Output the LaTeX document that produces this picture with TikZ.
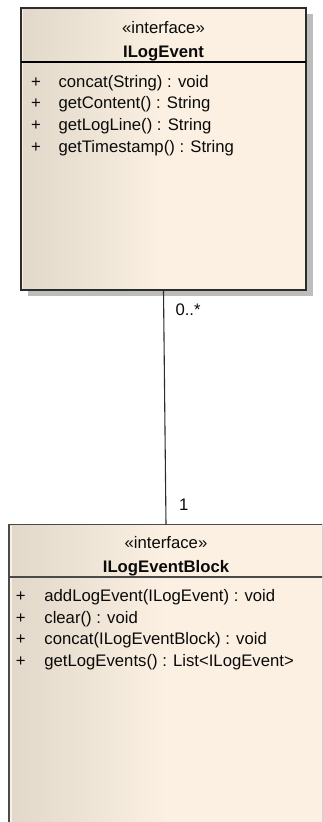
\documentclass[tikz,border=0pt]{standalone}
\usepackage{fontspec}
\setmainfont{Liberation Sans}
\usetikzlibrary{shadows}

\definecolor{fillL}{HTML}{E1D8C9}
\definecolor{fillR}{HTML}{FBF0E2}
\definecolor{edgeA}{HTML}{2C2C2C}
\definecolor{edgeB}{HTML}{4A4A4A}
\definecolor{shadowgray}{HTML}{BDBDBD}
\definecolor{txt}{HTML}{0A0A0A}

% darker beige on the left, fading to the pale fill by the middle
\pgfdeclarehorizontalshading{classfill}{100bp}{color(0bp)=(fillL); color(25bp)=(fillL); color(50bp)=(fillR); color(100bp)=(fillR)}

\tikzset{
  classbox/.style={rectangle, anchor=north west, outer sep=0pt, inner sep=0pt,
    shading=classfill, draw=edgeA, line width=1.2pt},
  boxshadow/.style={drop shadow={shadow xshift=7pt, shadow yshift=-6pt, fill=shadowgray, opacity=1}},
  lbl/.style={inner sep=0pt, outer sep=0pt, anchor=base, text=txt,
    font=\fontsize{16.7}{20}\selectfont},
  member/.style={lbl, anchor=base west},
  divline/.style={draw=black, line width=1.2pt},
  assoc/.style={draw=edgeA, line width=1.1pt},
}

\begin{document}
\begin{tikzpicture}[x=1pt, y=-1pt]
  \useasboundingbox (0,0) rectangle (322,822);
  \clip (0,0) rectangle (322,822);

  % ---- ILogEvent ----
  \node[classbox, boxshadow, minimum width=285pt, minimum height=282pt] (evt) at (21,8) {};
  \draw[fillR, line width=1.4pt] ([xshift=1.6pt,yshift=-1pt]evt.north west) -- ([xshift=1.6pt,yshift=1pt]evt.south west);
  \draw[edgeA, line width=1.2pt] (evt.north west) rectangle (evt.south east);
  \draw[divline] (evt.west |- 0,62) -- (evt.east |- 0,62);
  \node[lbl] (evtst) at (163.5,33) {«interface»};
  \node[lbl, font=\fontsize{16.7}{20}\selectfont\bfseries] (evtnm) at (163.5,57) {ILogEvent};
  \node[member] (evtp1) at (31,87)    {+};
  \node[member] (evtm1) at (58.6,87)  {concat(String) : void};
  \node[member] (evtp2) at (31,108.7) {+};
  \node[member] (evtm2) at (58.6,108.7) {getContent() : String};
  \node[member] (evtp3) at (31,130.4) {+};
  \node[member] (evtm3) at (58.6,130.4) {getLogLine() : String};
  \node[member] (evtp4) at (31,152)   {+};
  \node[member] (evtm4) at (58.6,152) {getTimestamp() : String};

  % ---- ILogEventBlock ----
  \node[classbox, draw=edgeB, line width=1.8pt, minimum width=314pt, minimum height=330pt] (blk) at (9,524.5) {};
  \draw[fillR, line width=1.4pt] ([xshift=2pt,yshift=-1.2pt]blk.north west) -- ([xshift=2pt]blk.south west);
  \draw[edgeB, line width=1.8pt] (blk.north west) rectangle (blk.south east);
  \draw[divline, draw=edgeB, line width=1.8pt] (blk.west |- 0,577) -- (blk.east |- 0,577);
  \node[lbl] (blkst) at (166,548) {«interface»};
  \node[lbl, font=\fontsize{16.7}{20}\selectfont\bfseries] (blknm) at (166,572) {ILogEventBlock};
  \node[member] (blkp1) at (16,601.7) {+};
  \node[member] (blkm1) at (44.4,601.7) {addLogEvent(ILogEvent) : void};
  \node[member] (blkp2) at (16,623.2) {+};
  \node[member] (blkm2) at (44.4,623.2) {clear() : void};
  \node[member] (blkp3) at (16,644.7) {+};
  \node[member] (blkm3) at (44.4,644.7) {concat(ILogEventBlock) : void};
  \node[member] (blkp4) at (16,666.2) {+};
  \node[member] (blkm4) at (44.4,666.2) {getLogEvents() : List<ILogEvent>};

  % ---- association with multiplicities ----
  \draw[assoc] (evt.south) -- (blk.north);
  \node[member] (mulmany) at (175.5,315) {0..*};
  \node[member] (mulone) at (179,510) {1};
\end{tikzpicture}
\end{document}
